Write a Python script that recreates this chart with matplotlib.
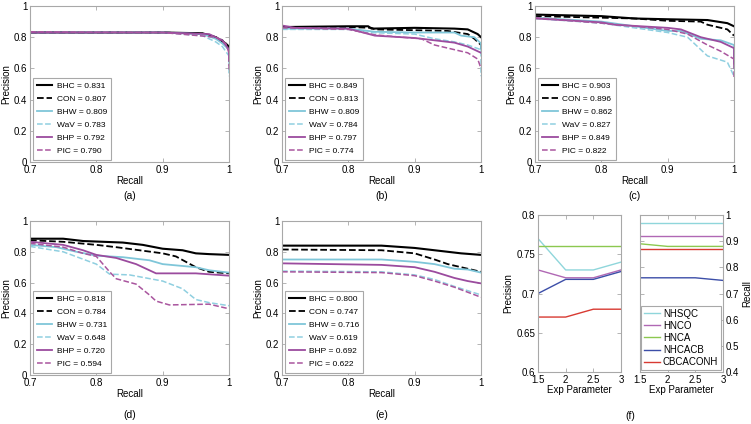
import matplotlib
matplotlib.use("Agg")
import matplotlib.pyplot as plt

plt.rcParams['font.family'] = ['Liberation Sans', 'DejaVu Sans']
plt.rcParams['font.size'] = 7

# ---- PR curves: (recall, precision) points ----
methods = ['BHC', 'CON', 'BHW', 'WaV', 'BHP', 'PIC']

a_curves = {
    'BHC': ([0.7, 0.8, 0.9, 0.96, 0.98, 0.995, 1.0, 1.0], [0.83, 0.83, 0.83, 0.825, 0.80, 0.76, 0.74, 0.70]),
    'CON': ([0.7, 0.8, 0.9, 0.96, 0.98, 0.99, 1.0, 1.0], [0.83, 0.83, 0.83, 0.822, 0.80, 0.78, 0.72, 0.62]),
    'BHW': ([0.7, 0.8, 0.9, 0.96, 0.98, 0.99, 1.0, 1.0], [0.83, 0.83, 0.83, 0.82, 0.79, 0.76, 0.72, 0.66]),
    'WaV': ([0.7, 0.8, 0.9, 0.96, 0.98, 0.99, 1.0, 1.0], [0.832, 0.832, 0.83, 0.81, 0.77, 0.74, 0.68, 0.55]),
    'BHP': ([0.7, 0.8, 0.9, 0.97, 0.99, 1.0, 1.0], [0.83, 0.83, 0.83, 0.82, 0.78, 0.72, 0.65]),
    'PIC': ([0.7, 0.8, 0.9, 0.98, 0.995, 1.0, 1.0], [0.835, 0.832, 0.83, 0.80, 0.76, 0.70, 0.58]),
}
b_curves = {
    'BHC': ([0.7, 0.8, 0.83, 0.835, 0.9, 0.96, 0.98, 0.995, 1.0], [0.865, 0.87, 0.87, 0.855, 0.86, 0.855, 0.85, 0.82, 0.80]),
    'CON': ([0.7, 0.8, 0.835, 0.84, 0.9, 0.95, 0.98, 0.99, 1.0, 1.0], [0.86, 0.865, 0.86, 0.85, 0.845, 0.84, 0.82, 0.79, 0.75, 0.70]),
    'BHW': ([0.7, 0.8, 0.84, 0.9, 0.96, 0.97, 0.99, 1.0, 1.0], [0.855, 0.855, 0.835, 0.83, 0.83, 0.81, 0.80, 0.76, 0.72]),
    'WaV': ([0.7, 0.8, 0.83, 0.9, 0.93, 0.96, 0.98, 1.0, 1.0], [0.85, 0.85, 0.83, 0.82, 0.79, 0.77, 0.75, 0.72, 0.55]),
    'BHP': ([0.7, 0.72, 0.8, 0.84, 0.9, 0.92, 0.96, 0.98, 1.0], [0.875, 0.86, 0.855, 0.81, 0.795, 0.785, 0.765, 0.74, 0.70]),
    'PIC': ([0.7, 0.8, 0.84, 0.88, 0.91, 0.93, 0.96, 0.98, 0.995, 1.0], [0.86, 0.85, 0.815, 0.80, 0.79, 0.75, 0.72, 0.70, 0.66, 0.60]),
}
c_curves = {
    'BHC': ([0.7, 0.8, 0.85, 0.9, 0.96, 0.99, 1.0], [0.945, 0.935, 0.92, 0.915, 0.91, 0.89, 0.87]),
    'CON': ([0.7, 0.8, 0.85, 0.9, 0.95, 0.96, 0.98, 0.99, 1.0], [0.935, 0.925, 0.92, 0.905, 0.90, 0.88, 0.86, 0.85, 0.81]),
    'BHW': ([0.7, 0.8, 0.9, 0.92, 0.95, 0.98, 1.0, 1.0], [0.925, 0.90, 0.84, 0.84, 0.79, 0.78, 0.75, 0.60]),
    'WaV': ([0.7, 0.8, 0.9, 0.93, 0.96, 0.99, 1.0], [0.92, 0.89, 0.83, 0.80, 0.68, 0.64, 0.55]),
    'BHP': ([0.7, 0.8, 0.82, 0.9, 0.92, 0.95, 0.98, 1.0, 1.0], [0.92, 0.895, 0.88, 0.86, 0.85, 0.80, 0.77, 0.73, 0.63]),
    'PIC': ([0.7, 0.8, 0.9, 0.93, 0.96, 0.98, 1.0, 1.0], [0.925, 0.89, 0.85, 0.82, 0.75, 0.71, 0.66, 0.53]),
}
d_curves = {
    'BHC': ([0.7, 0.75, 0.78, 0.84, 0.87, 0.9, 0.93, 0.95, 0.97, 1.0], [0.885, 0.885, 0.87, 0.86, 0.845, 0.82, 0.81, 0.79, 0.785, 0.78]),
    'CON': ([0.7, 0.75, 0.8, 0.83, 0.9, 0.92, 0.95, 0.97, 1.0], [0.875, 0.865, 0.845, 0.83, 0.79, 0.77, 0.70, 0.67, 0.66]),
    'BHW': ([0.7, 0.74, 0.77, 0.8, 0.84, 0.88, 0.9, 0.95, 0.97, 1.0], [0.845, 0.83, 0.80, 0.775, 0.765, 0.745, 0.72, 0.70, 0.68, 0.665]),
    'WaV': ([0.7, 0.75, 0.8, 0.82, 0.85, 0.9, 0.93, 0.95, 0.97, 1.0], [0.835, 0.80, 0.72, 0.655, 0.65, 0.61, 0.56, 0.49, 0.47, 0.45]),
    'BHP': ([0.7, 0.75, 0.78, 0.8, 0.83, 0.86, 0.89, 0.95, 1.0], [0.865, 0.845, 0.81, 0.78, 0.76, 0.72, 0.66, 0.66, 0.645]),
    'PIC': ([0.7, 0.75, 0.78, 0.8, 0.82, 0.83, 0.86, 0.88, 0.89, 0.91, 0.97, 1.0], [0.855, 0.83, 0.79, 0.77, 0.67, 0.625, 0.59, 0.52, 0.48, 0.455, 0.46, 0.43]),
}
e_curves = {
    'BHC': ([0.7, 0.85, 0.9, 0.93, 0.95, 0.97, 1.0], [0.84, 0.84, 0.825, 0.81, 0.80, 0.79, 0.78]),
    'CON': ([0.7, 0.85, 0.9, 0.93, 0.95, 0.97, 1.0], [0.815, 0.81, 0.79, 0.75, 0.72, 0.70, 0.67]),
    'BHW': ([0.7, 0.85, 0.9, 0.93, 0.96, 0.98, 1.0], [0.75, 0.75, 0.735, 0.72, 0.69, 0.685, 0.665]),
    'WaV': ([0.7, 0.85, 0.9, 0.93, 0.96, 1.0], [0.675, 0.67, 0.65, 0.62, 0.575, 0.52]),
    'BHP': ([0.7, 0.85, 0.9, 0.93, 0.96, 0.98, 1.0], [0.725, 0.715, 0.70, 0.67, 0.63, 0.61, 0.595]),
    'PIC': ([0.7, 0.85, 0.9, 0.93, 0.96, 1.0], [0.67, 0.665, 0.645, 0.61, 0.57, 0.505]),
}

a_ap = [0.831, 0.807, 0.809, 0.783, 0.792, 0.790]
b_ap = [0.849, 0.813, 0.809, 0.784, 0.797, 0.774]
c_ap = [0.903, 0.896, 0.862, 0.827, 0.849, 0.822]
d_ap = [0.818, 0.784, 0.731, 0.648, 0.720, 0.594]
e_ap = [0.800, 0.747, 0.716, 0.619, 0.692, 0.622]

# ---- panel (f): exp parameter sweep ----
exp_param = [1.5, 2, 2.5, 3]
experiments = ['NHSQC', 'HNCO', 'HNCA', 'NHCACB', 'CBCACONH']
f_precision = {
    'NHSQC': [0.77, 0.73, 0.73, 0.74],
    'HNCO': [0.73, 0.72, 0.72, 0.73],
    'HNCA': [0.76, 0.76, 0.76, 0.76],
    'NHCACB': [0.70, 0.718, 0.718, 0.728],
    'CBCACONH': [0.67, 0.67, 0.68, 0.68],
}
f_recall = {
    'NHSQC': [0.97, 0.97, 0.97, 0.97],
    'HNCO': [0.92, 0.92, 0.92, 0.92],
    'HNCA': [0.89, 0.88, 0.88, 0.88],
    'NHCACB': [0.76, 0.76, 0.76, 0.75],
    'CBCACONH': [0.87, 0.87, 0.87, 0.87],
}

styles = {
    'BHC': dict(color='black', ls='-', lw=1.5),
    'CON': dict(color='black', ls='--', lw=1.3),
    'BHW': dict(color='#7fc6d9', ls='-', lw=1.3),
    'WaV': dict(color='#8fcfe0', ls='--', lw=1.1),
    'BHP': dict(color='#9b4b9e', ls='-', lw=1.3),
    'PIC': dict(color='#a9559e', ls='--', lw=1.1),
}
exp_colors = {'NHSQC': '#8fd6db', 'HNCO': '#b068b4', 'HNCA': '#8cc850',
              'NHCACB': '#3c4ea8', 'CBCACONH': '#d83a32'}

SPINE = '#a8a8a8'
W, H = 751, 424
fig = plt.figure(figsize=(W / 100, H / 100), dpi=100)


def px_axes(x0, y0, x1, y1):
    return fig.add_axes([x0 / W, 1 - y1 / H, (x1 - x0) / W, (y1 - y0) / H])


def style_axes(ax):
    for s in ax.spines.values():
        s.set_color(SPINE)
        s.set_linewidth(0.8)
    ax.tick_params(direction='in', length=3, width=0.6, color=SPINE,
                   labelsize=7, pad=2, top=True, right=True)


def pr_panel(box, curves, ap, tag):
    ax = px_axes(*box)
    for m, v in zip(methods, ap):
        xs, ys = curves[m]
        ax.plot(xs, ys, label=f'{m} = {v:.3f}', **styles[m])
    ax.set_xlim(0.7, 1)
    ax.set_ylim(0, 1)
    ax.set_xticks([0.7, 0.8, 0.9, 1])
    ax.set_xticklabels(['0.7', '0.8', '0.9', '1'])
    ax.set_yticks([0, 0.2, 0.4, 0.6, 0.8, 1])
    ax.set_yticklabels(['0', '0.2', '0.4', '0.6', '0.8', '1'])
    style_axes(ax)
    ax.set_xlabel('Recall', fontsize=7, labelpad=1)
    ax.set_ylabel('Precision', fontsize=7, labelpad=2)
    leg = ax.legend(loc='lower left', fontsize=6, handlelength=1.9, handletextpad=0.5,
                    labelspacing=0.62, borderpad=0.5, borderaxespad=0.3,
                    fancybox=False, framealpha=1)
    leg.get_frame().set_edgecolor(SPINE)
    leg.get_frame().set_linewidth(0.8)
    x0, y0, x1, y1 = box
    lab_y = 196 if y0 < 100 else 415
    fig.text((x0 + x1) / 2 / W, 1 - lab_y / H, tag, ha='center', va='center', fontsize=7.5)
    return ax


pr_panel((30, 6, 229, 162), a_curves, a_ap, '(a)')
pr_panel((282, 6, 481, 162), b_curves, b_ap, '(b)')
pr_panel((535, 6, 734, 162), c_curves, c_ap, '(c)')
pr_panel((30, 221, 229, 375), d_curves, d_ap, '(d)')
pr_panel((282, 221, 481, 375), e_curves, e_ap, '(e)')

# panel (f) left: precision
axl = px_axes(538, 215, 621, 372)
for e in experiments:
    axl.plot(exp_param, f_precision[e], color=exp_colors[e], lw=1)
axl.set_xlim(1.5, 3)
axl.set_ylim(0.6, 0.8)
axl.set_xticks(exp_param)
axl.set_xticklabels(['1.5', '2', '2.5', '3'])
axl.set_yticks([0.6, 0.65, 0.7, 0.75, 0.8])
axl.set_yticklabels(['0.6', '0.65', '0.7', '0.75', '0.8'])
style_axes(axl)
axl.set_xlabel('Exp Parameter', fontsize=7, labelpad=0)
axl.set_ylabel('Precision', fontsize=7, labelpad=2)

# panel (f) right: recall
axr = px_axes(640, 215, 723, 372)
for e in experiments:
    axr.plot(exp_param, f_recall[e], color=exp_colors[e], lw=1, label=e)
axr.set_xlim(1.5, 3)
axr.set_ylim(0.4, 1)
axr.set_xticks(exp_param)
axr.set_xticklabels(['1.5', '2', '2.5', '3'])
axr.set_yticks([0.4, 0.5, 0.6, 0.7, 0.8, 0.9, 1])
axr.set_yticklabels(['0.4', '0.5', '0.6', '0.7', '0.8', '0.9', '1'])
style_axes(axr)
axr.tick_params(labelleft=False, labelright=True)
axr.yaxis.set_label_position('right')
axr.set_xlabel('Exp Parameter', fontsize=7, labelpad=0)
axr.set_ylabel('Recall', fontsize=7, labelpad=2)
leg = axr.legend(loc='lower right', fontsize=7, handlelength=1.6, handletextpad=0.3,
                 labelspacing=0.22, borderpad=0.3, borderaxespad=0.2,
                 fancybox=False, framealpha=1)
leg.get_frame().set_edgecolor(SPINE)
leg.get_frame().set_linewidth(0.8)
fig.text(630 / W, 1 - 416 / H, '(f)', ha='center', va='center', fontsize=7.5)

fig.savefig('out.png', dpi=100)
